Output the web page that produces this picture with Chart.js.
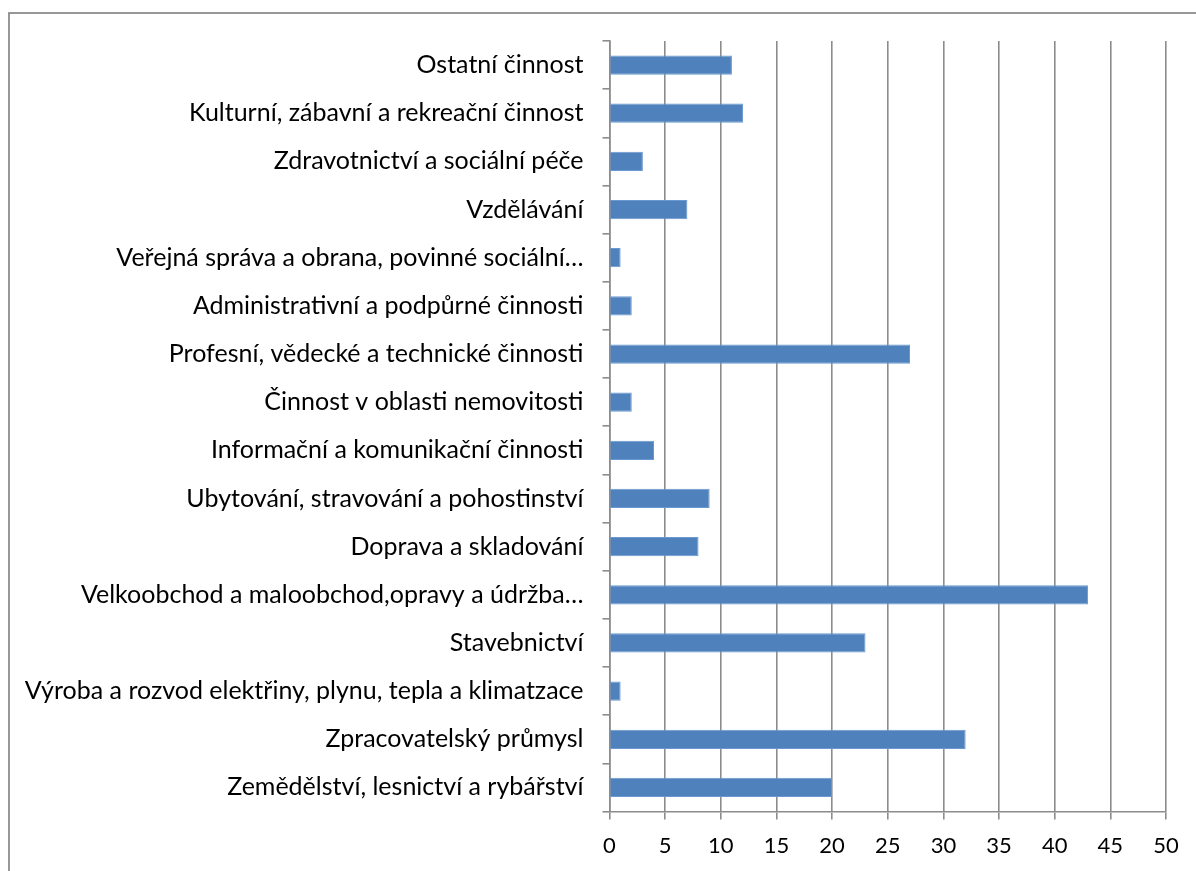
<!DOCTYPE html>
<html>
<head>
<meta charset="utf-8">
<script src="https://cdn.jsdelivr.net/npm/chart.js@4"></script>
<style>
html,body{margin:0;padding:0;background:#fff;}
#wrap{position:relative;width:1196px;height:871px;}
</style>
</head>
<body>
<div id="wrap"><canvas id="c" width="1196" height="871"></canvas></div>
<script>
const categories = [
  "Ostatní činnost",
  "Kulturní, zábavní a rekreační činnost",
  "Zdravotnictví a sociální péče",
  "Vzdělávání",
  "Veřejná správa a obrana, povinné sociální…",
  "Administrativní a podpůrné činnosti",
  "Profesní, vědecké a technické činnosti",
  "Činnost v oblasti nemovitosti",
  "Informační a komunikační činnosti",
  "Ubytování, stravování a pohostinství",
  "Doprava a skladování",
  "Velkoobchod a maloobchod,opravy a údržba…",
  "Stavebnictví",
  "Výroba a rozvod elektřiny, plynu, tepla a klimatzace",
  "Zpracovatelský průmysl",
  "Zemědělství, lesnictví a rybářství"
];
const values = [11, 12, 3, 7, 1, 2, 27, 2, 4, 9, 8, 43, 23, 1, 32, 20];
const xMin = 0, xMax = 50, xStep = 5;

const GRID = '#8c8c8c';
const FONT = 'Lato, "Open Sans", sans-serif';

const borderPlugin = {
  id: 'outerBorder',
  beforeDraw(chart) {
    const ctx = chart.ctx;
    ctx.save();
    ctx.strokeStyle = '#868686';
    ctx.lineWidth = 1.7;
    ctx.strokeRect(9, 13, 1400, 1000);
    ctx.restore();
  }
};

new Chart(document.getElementById('c'), {
  type: 'bar',
  data: {
    labels: categories,
    datasets: [{
      data: values,
      backgroundColor: '#4F81BD',
      borderColor: '#6a98cf',
      borderWidth: 1,
      categoryPercentage: 0.8,
      barPercentage: 0.5
    }]
  },
  options: {
    indexAxis: 'y',
    responsive: false,
    animation: false,
    events: [],
    layout: { padding: { left: 0, top: 41, right: 30, bottom: 0 } },
    plugins: { legend: { display: false }, tooltip: { enabled: false } },
    scales: {
      x: {
        min: xMin, max: xMax,
        ticks: { stepSize: xStep, color: '#000', font: { family: FONT, size: 22 }, padding: 13, maxRotation: 0 },
        grid: { color: GRID, lineWidth: 1.6, drawTicks: true, tickLength: 8 },
        border: { display: true, color: GRID, width: 1.6 },
        afterFit(s) { s.height = 59.5; }
      },
      y: {
        ticks: { color: '#000', font: { family: FONT, size: 25 }, padding: 19, autoSkip: false },
        grid: { color: GRID, lineWidth: 1.6, drawOnChartArea: false, drawTicks: true, tickLength: 7 },
        border: { display: true, color: GRID, width: 1.6 },
        afterFit(s) { s.width = 609.5; }
      }
    }
  },
  plugins: [borderPlugin]
});
</script>
</body>
</html>
